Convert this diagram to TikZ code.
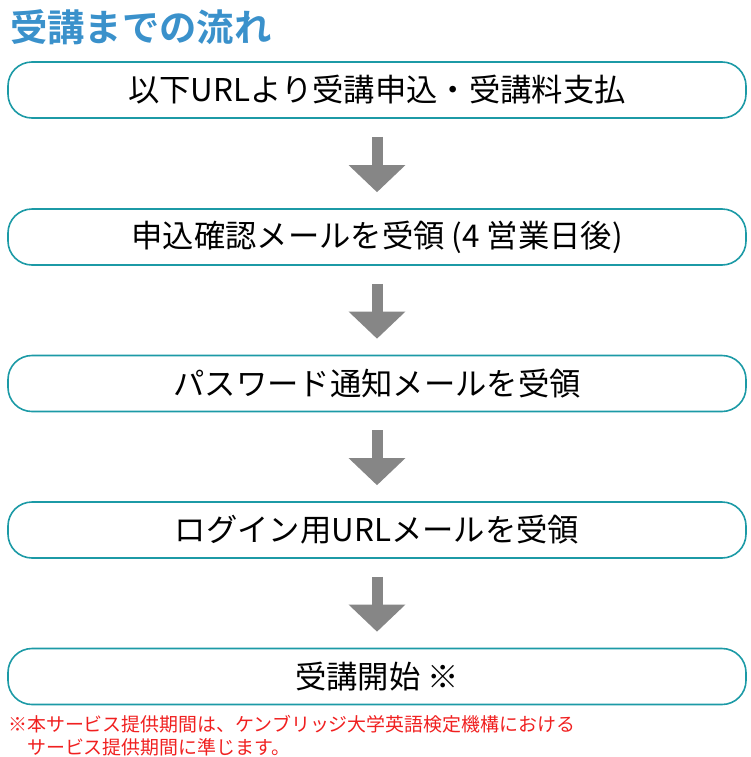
\documentclass[tikz,border=0pt]{standalone}
\usepackage{fontspec}
\setmainfont{Noto Sans CJK JP}
\newfontfamily\titlefont{Noto Sans CJK JP Bold}
\usetikzlibrary{arrows.meta}
\definecolor{boxteal}{HTML}{1C9AA6}
\definecolor{titleblue}{HTML}{3A91CB}
\definecolor{noteRed}{HTML}{F02020}
\definecolor{arrowgray}{HTML}{868686}
\tikzset{
	stepbox/.style={rectangle,draw=boxteal,line width=1.2pt,rounded corners=18pt,minimum width=553.5pt,minimum height=42pt,inner sep=0pt,font=\fontsize{23.5pt}{26pt}\selectfont},
	flowarrow/.style={draw=arrowgray,line width=8.25pt,-{Triangle[width=41.25pt,length=20.25pt]},shorten <=13.5pt,shorten >=12pt}
}
\begin{document}
\begin{tikzpicture}[x=0.75pt,y=-0.75pt]
	\useasboundingbox (0,0) rectangle (750,757);
	\node [anchor=west,text=titleblue,font=\titlefont\fontsize{28pt}{30pt}\selectfont,inner sep=0pt] (title) at (10,27) {受講までの流れ};

	\node [stepbox] (s1) at (377,90) {以下URLより受講申込・受講料支払};
	\node [stepbox] (s2) at (377,237) {申込確認メールを受領 (4 営業日後)};
	\node [stepbox] (s3) at (377,383.5) {パスワード通知メールを受領};
	\node [stepbox] (s4) at (377,530) {ログイン用URLメールを受領};
	\node [stepbox] (s5) at (377,676.5) {受講開始 ※};

	\draw [flowarrow] (s1) -- (s2);
	\draw [flowarrow] (s2) -- (s3);
	\draw [flowarrow] (s3) -- (s4);
	\draw [flowarrow] (s4) -- (s5);

	\node [anchor=north west,text=noteRed,align=left,inner sep=0pt,font=\fontsize{14.2pt}{17pt}\selectfont] (note) at (8,715) {※本サービス提供期間は、ケンブリッジ大学英語検定機構における\\\hspace{1em}サービス提供期間に準じます。};
\end{tikzpicture}
\end{document}
